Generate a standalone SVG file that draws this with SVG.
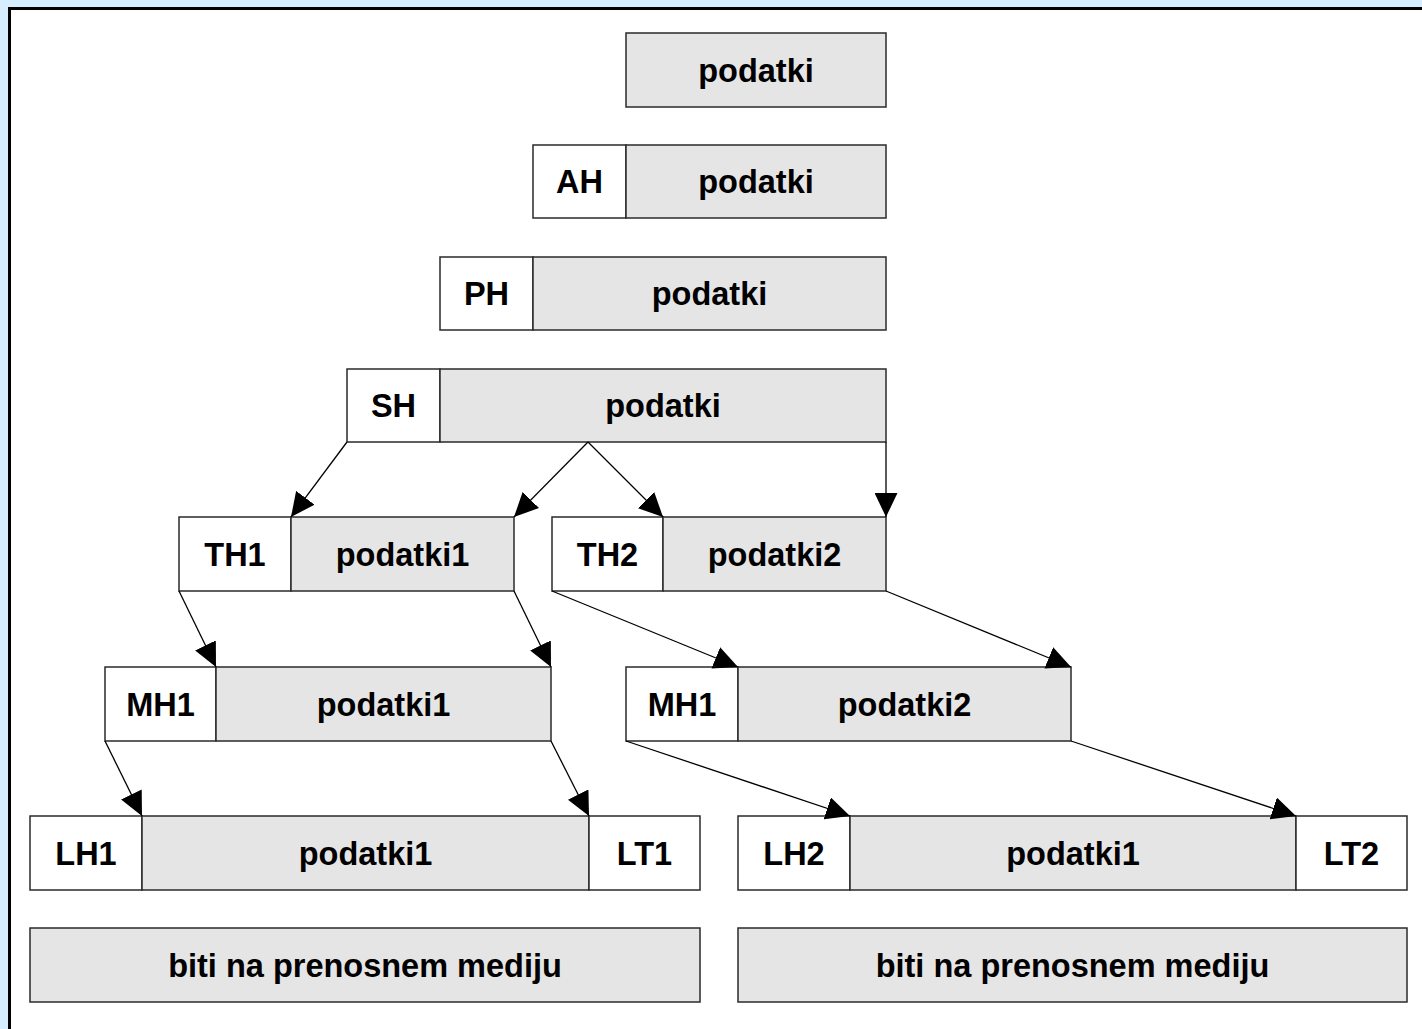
<svg xmlns="http://www.w3.org/2000/svg" width="1422" height="1029" viewBox="0 0 1422 1029">
  <style>
    .hdr { fill: #ffffff; stroke: #2a2a2a; stroke-width: 1.5; }
    .dat { fill: #e5e5e5; stroke: #2a2a2a; stroke-width: 1.5; }
    .lbl { font-family: "Liberation Sans", Arial, sans-serif; font-weight: bold; font-size: 32.5px; fill: #000; text-anchor: middle; }
    .conn { stroke: #000; stroke-width: 1.3; fill: none; marker-end: url(#arrow); }
  </style>
  <defs>
    <marker id="arrow" markerUnits="userSpaceOnUse" markerWidth="25" markerHeight="23" refX="24" refY="11.5" orient="auto">
      <path d="M0,0 L24,11.5 L0,23 Z" fill="#000"/>
    </marker>
  </defs>

  <!-- page background and frame -->
  <rect x="0" y="0" width="1422" height="1029" fill="#d6ecff"/>
  <rect x="9.5" y="8.5" width="1440" height="1050" fill="#ffffff" stroke="#000" stroke-width="3"/>

  <!-- row 1: application data -->
  <g id="row1">
    <rect class="dat" x="626" y="33" width="260" height="74"/>
    <text class="lbl" x="756" y="81.5">podatki</text>
  </g>

  <!-- row 2: AH + data -->
  <g id="row2">
    <rect class="hdr" x="533" y="145" width="93" height="73"/>
    <rect class="dat" x="626" y="145" width="260" height="73"/>
    <text class="lbl" x="579.5" y="193">AH</text>
    <text class="lbl" x="756" y="193">podatki</text>
  </g>

  <!-- row 3: PH + data -->
  <g id="row3">
    <rect class="hdr" x="440" y="257" width="93" height="73"/>
    <rect class="dat" x="533" y="257" width="353" height="73"/>
    <text class="lbl" x="486.5" y="305">PH</text>
    <text class="lbl" x="709.5" y="305">podatki</text>
  </g>

  <!-- row 4: SH + data -->
  <g id="row4">
    <rect class="hdr" x="347" y="369" width="93" height="73"/>
    <rect class="dat" x="440" y="369" width="446" height="73"/>
    <text class="lbl" x="393.5" y="417">SH</text>
    <text class="lbl" x="663" y="417">podatki</text>
  </g>

  <!-- row 5: transport segments -->
  <g id="seg1">
    <rect class="hdr" x="179" y="517" width="112" height="74"/>
    <rect class="dat" x="291" y="517" width="223" height="74"/>
    <text class="lbl" x="235" y="565.5">TH1</text>
    <text class="lbl" x="402.5" y="565.5">podatki1</text>
  </g>
  <g id="seg2">
    <rect class="hdr" x="552" y="517" width="111" height="74"/>
    <rect class="dat" x="663" y="517" width="223" height="74"/>
    <text class="lbl" x="607.5" y="565.5">TH2</text>
    <text class="lbl" x="774.5" y="565.5">podatki2</text>
  </g>

  <!-- row 6: network packets -->
  <g id="pkt1">
    <rect class="hdr" x="105" y="667" width="111" height="74"/>
    <rect class="dat" x="216" y="667" width="335" height="74"/>
    <text class="lbl" x="160.5" y="715.5">MH1</text>
    <text class="lbl" x="383.5" y="715.5">podatki1</text>
  </g>
  <g id="pkt2">
    <rect class="hdr" x="626" y="667" width="112" height="74"/>
    <rect class="dat" x="738" y="667" width="333" height="74"/>
    <text class="lbl" x="682" y="715.5">MH1</text>
    <text class="lbl" x="904.5" y="715.5">podatki2</text>
  </g>

  <!-- row 7: frames -->
  <g id="frame1">
    <rect class="hdr" x="30" y="816" width="112" height="74"/>
    <rect class="dat" x="142" y="816" width="447" height="74"/>
    <rect class="hdr" x="589" y="816" width="111" height="74"/>
    <text class="lbl" x="86" y="864.5">LH1</text>
    <text class="lbl" x="365.5" y="864.5">podatki1</text>
    <text class="lbl" x="644.5" y="864.5">LT1</text>
  </g>
  <g id="frame2">
    <rect class="hdr" x="738" y="816" width="112" height="74"/>
    <rect class="dat" x="850" y="816" width="446" height="74"/>
    <rect class="hdr" x="1296" y="816" width="111" height="74"/>
    <text class="lbl" x="794" y="864.5">LH2</text>
    <text class="lbl" x="1073" y="864.5">podatki1</text>
    <text class="lbl" x="1351.5" y="864.5">LT2</text>
  </g>

  <!-- row 8: physical medium -->
  <g id="bits1">
    <rect class="dat" x="30" y="928" width="670" height="74"/>
    <text class="lbl" x="365" y="976.5">biti na prenosnem mediju</text>
  </g>
  <g id="bits2">
    <rect class="dat" x="738" y="928" width="669" height="74"/>
    <text class="lbl" x="1072.5" y="976.5">biti na prenosnem mediju</text>
  </g>

  <!-- connectors -->
  <g id="connectors">
    <line class="conn" x1="347" y1="442" x2="291" y2="517"/>
    <line class="conn" x1="588" y1="442" x2="514" y2="517"/>
    <line class="conn" x1="588" y1="442" x2="663" y2="517"/>
    <line class="conn" x1="886" y1="442" x2="886" y2="517"/>
    <line class="conn" x1="179" y1="591" x2="216" y2="667"/>
    <line class="conn" x1="514" y1="591" x2="551" y2="667"/>
    <line class="conn" x1="552" y1="591" x2="738" y2="667"/>
    <line class="conn" x1="886" y1="591" x2="1071" y2="667"/>
    <line class="conn" x1="105" y1="741" x2="142" y2="816"/>
    <line class="conn" x1="551" y1="741" x2="589" y2="816"/>
    <line class="conn" x1="626" y1="741" x2="850" y2="816"/>
    <line class="conn" x1="1071" y1="741" x2="1296" y2="816"/>
  </g>
</svg>
